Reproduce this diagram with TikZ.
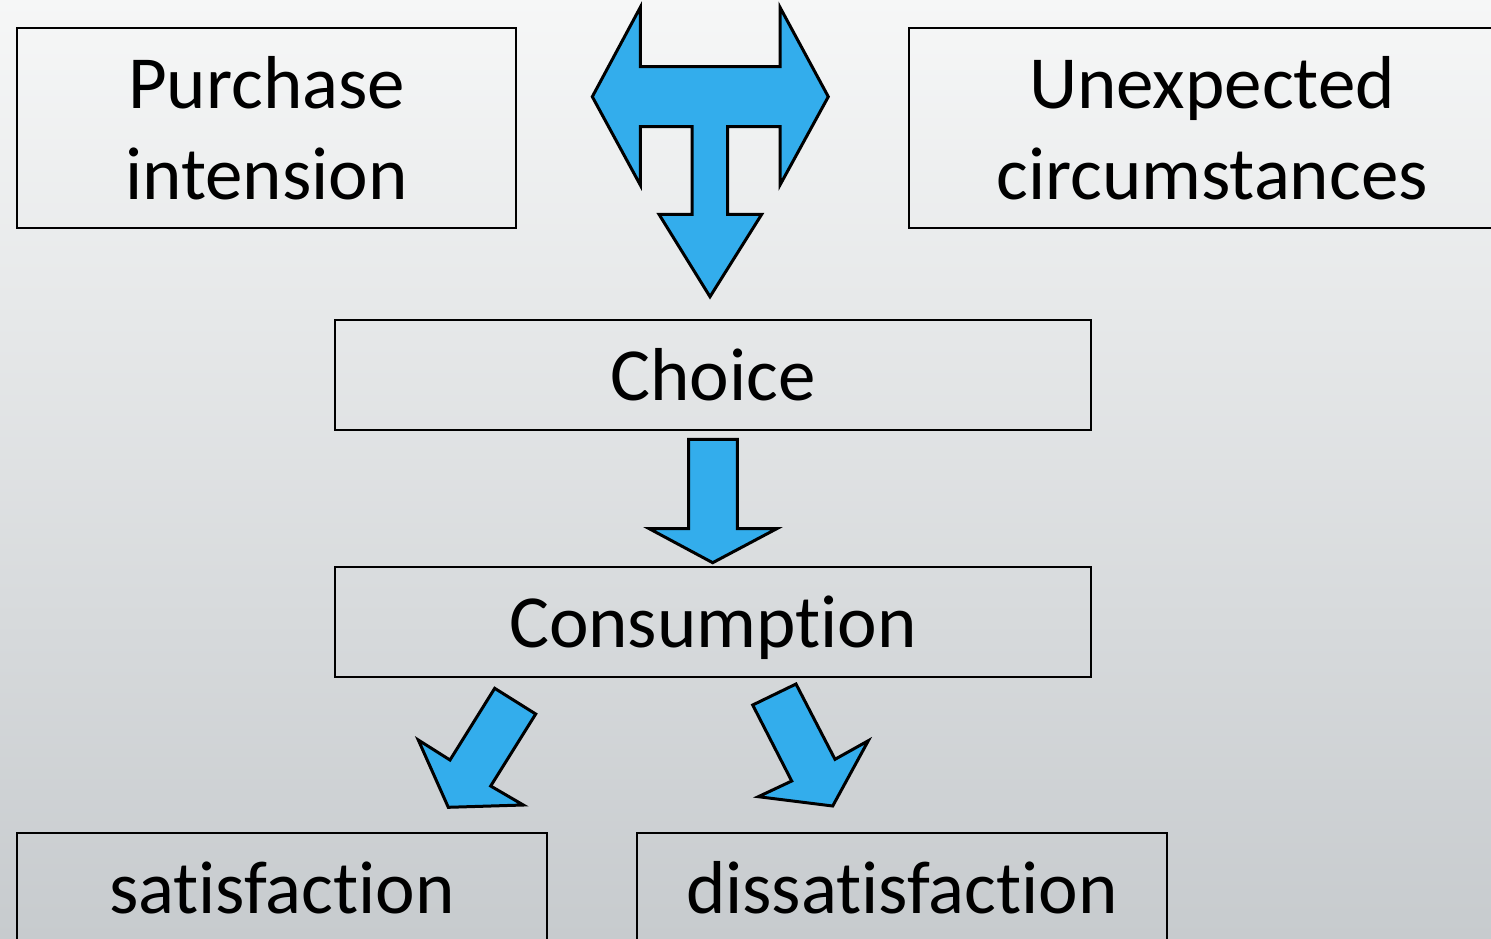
\documentclass[tikz,border=0pt]{standalone}
\usepackage{fontspec}
\setmainfont[Ligatures=NoCommon]{Carlito}
\definecolor{arrowblue}{RGB}{51,173,236}
\definecolor{bgtop}{RGB}{246,247,247}
\definecolor{bgbot}{RGB}{199,203,206}
\begin{document}
\begin{tikzpicture}[x=1pt,y=-1pt,
  box/.style={draw=black,line width=2.5pt,rectangle,inner sep=0pt,align=center,
    font=\fontsize{75}{91}\selectfont},
  oneline/.style={text height=50pt,text depth=0pt},
  label/.style={font=\fontsize{75}{91}\selectfont,align=center,inner sep=0pt},
  blockarrow/.style={draw=black,fill=arrowblue,line width=3pt,line join=miter}]
\useasboundingbox (0,0) rectangle (1491,938);
\clip (0,0) rectangle (1491,938);
\shade[top color=bgtop,bottom color=bgbot] (0,0) rectangle (1491,938);
% boxes
\node[box,minimum width=499pt,minimum height=200pt] (purchase) at (266.5,128) {Purchase\\intension};
\node[box,minimum width=620pt,minimum height=200pt] (unexp) at (1219,128) {};
\node[label] (unexptext) at (1212,128) {Unexpected\\circumstances};
\node[box,oneline,minimum width=756pt,minimum height=110pt] (choice) at (713,375) {Choice};
\node[box,oneline,minimum width=756pt,minimum height=110pt] (consump) at (713,622) {Consumption};
\node[box,minimum width=530pt,minimum height=120pt] (satis) at (282,893) {};
\node[label,oneline] (satistext) at (282,888) {satisfaction};
\node[box,minimum width=530pt,minimum height=120pt] (dissatis) at (902,893) {};
\node[label,oneline] (dissatistext) at (902,888) {dissatisfaction};
% T-shaped arrow
\draw[blockarrow] (592.3,96.7) -- (640.3,7.3) -- (640.3,66.7) -- (780,66.7) -- (780,7.3)
  -- (828.3,96.7) -- (780,185) -- (780,126.7) -- (727.7,126.7) -- (727.7,214.3)
  -- (761.7,214.3) -- (710,296.7) -- (659,214.3) -- (692,214.3) -- (692,126.7)
  -- (640.3,126.7) -- (640.3,185) -- cycle;
% down arrow
\draw[blockarrow] (688.7,439.3) -- (737.3,439.3) -- (737.3,528.7) -- (776.7,528.7)
  -- (712.7,562.7) -- (649.3,528.7) -- (688.7,528.7) -- cycle;
% left diagonal arrow
\draw[blockarrow] (494.7,688.3) -- (535.7,714) -- (490.7,786) -- (523.3,805)
  -- (448.3,807.3) -- (418.3,740) -- (450,760) -- cycle;
% right diagonal arrow
\draw[blockarrow] (752.7,705) -- (796,684) -- (835,759.3) -- (868.3,740.7)
  -- (832.7,806) -- (758.3,796.7) -- (791.7,781) -- cycle;
\end{tikzpicture}
\end{document}
